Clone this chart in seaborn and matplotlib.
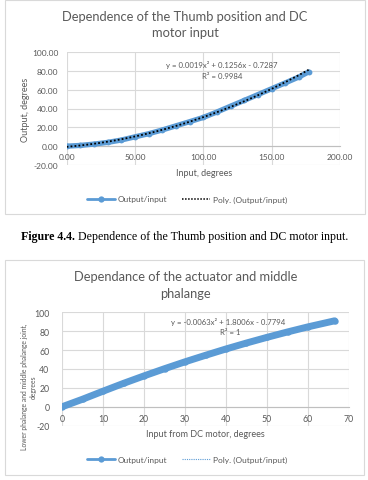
import numpy as np
import pandas as pd
import seaborn as sns
import matplotlib
matplotlib.use("Agg")
import matplotlib.pyplot as plt
from matplotlib.patches import Rectangle
from matplotlib.lines import Line2D

# ---------------- data ----------------
thumb_input = [0, 10, 20, 30, 40, 50, 60, 70, 80, 90, 100, 110, 120, 130, 140, 150, 160, 170, 177]
thumb_output = [0, 0.8, 2.2, 4.0, 6.5, 9.9, 13.2, 17.2, 21.6, 26.0, 30.5, 36.3, 42.5, 48.6, 54.8, 61.0, 67.2, 73.5, 78.8]
thumb_poly = [0.0019, 0.1256, -0.7287]
thumb_r2 = "0.9984"

mid_input = [0, 5, 10, 15, 20, 25, 30, 35, 40, 45, 50, 55, 60, 66.5]
mid_output = [0, 8.0, 16.5, 24.8, 32.7, 40.3, 47.6, 54.5, 61.2, 67.5, 73.5, 79.2, 84.6, 91.0]
mid_poly = [-0.0063, 1.8006, -0.7794]
mid_r2 = "1"

thumb_xticks = [0, 50, 100, 150, 200]
thumb_yticks = [-20, 0, 20, 40, 60, 80, 100]
mid_xticks = [0, 10, 20, 30, 40, 50, 60, 70]
mid_yticks = [-20, 0, 20, 40, 60, 80, 100]

# ---------------- style ----------------
sns.set_theme(style="white")
plt.rcParams['font.family'] = ['Lato', 'DejaVu Sans']
plt.rcParams['axes.unicode_minus'] = False

BLUE = "#5B9BD5"
GRID = "#D9D9D9"
TXT = "#595959"

W, H = 368, 481
fig = plt.figure(figsize=(W / 100, H / 100), dpi=100)

def px_rect(x0, y0, x1, y1):
    return [x0 / W, 1 - y1 / H, (x1 - x0) / W, (y1 - y0) / H]

def fx(x):
    return x / W

def fy(y):
    return 1 - y / H

# frames
for (x0, y0, x1, y1) in [(5, 1, 365, 215), (5, 261, 364, 476)]:
    fig.add_artist(Rectangle((fx(x0), fy(y1)), (x1 - x0) / W, (y1 - y0) / H,
                             transform=fig.transFigure, fill=False,
                             edgecolor=GRID, linewidth=0.8))


def poly_label(c):
    def term(v, first=False):
        return ("-" if v < 0 else "") if first else (" - " if v < 0 else " + ")
    s = "y = " + term(c[0], True) + f"{abs(c[0]):.4f}x\u00b2" + term(c[1]) + f"{abs(c[1]):.4f}x" + term(c[2]) + f"{abs(c[2]):.4f}"
    return s


def style_axes(ax, xticks, yticks, xfmt, yfmt, xlim, ylim, tick_fs):
    ax.set_xlim(*xlim)
    ax.set_ylim(*ylim)
    ax.set_xticks(xticks)
    ax.set_yticks(yticks)
    ax.set_xticklabels([xfmt(v) for v in xticks])
    ax.set_yticklabels([yfmt(v) for v in yticks])
    ax.grid(True, color=GRID, linewidth=0.8)
    ax.set_axisbelow(True)
    for s in ["top", "right", "left"]:
        ax.spines[s].set_visible(False)
    ax.spines["bottom"].set_position(("data", 0))
    ax.spines["bottom"].set_color("#BFBFBF")
    ax.spines["bottom"].set_linewidth(0.8)
    ax.tick_params(axis="both", length=0, labelsize=tick_fs, colors=TXT)
    ax.tick_params(axis="x", pad=5)
    ax.tick_params(axis="y", pad=6)
    ax.set_xlabel("")
    ax.set_ylabel("")


# ---------------- chart 1 ----------------
ax1 = fig.add_axes(px_rect(66.6, 53, 340, 166))
df1 = pd.DataFrame({"x": thumb_input, "y": thumb_output})
sns.lineplot(data=df1, x="x", y="y", ax=ax1, color=BLUE, linewidth=3.8,
             marker="o", markersize=4.2, markeredgewidth=0, legend=False, zorder=3)
tx1 = np.linspace(min(thumb_input), max(thumb_input), 200)
sns.lineplot(x=tx1, y=np.polyval(thumb_poly, tx1), ax=ax1, color="black",
             linewidth=1.3, linestyle=(0, (1, 1.2)), legend=False, zorder=4)
style_axes(ax1, thumb_xticks, thumb_yticks, lambda v: f"{v:.2f}", lambda v: f"{v:.2f}",
           (0, 200), (-20, 100), 6)
ax1.text(0.568, 0.894, poly_label(thumb_poly), transform=ax1.transAxes, ha="center",
         va="center", fontsize=5.6, color=TXT)
ax1.text(0.568, 0.788, "R\u00b2 = " + thumb_r2, transform=ax1.transAxes, ha="center",
         va="center", fontsize=5.6, color=TXT)

fig.text(fx(185), fy(17), "Dependence of the Thumb position and DC", ha="center", va="center",
         fontsize=9.3, color=TXT)
fig.text(fx(185), fy(33), "motor input", ha="center", va="center", fontsize=9.3, color=TXT)
fig.text(fx(25), fy(110), "Output, degrees", ha="center", va="center", rotation=90,
         fontsize=6.5, color=TXT)
fig.text(fx(204), fy(174), "Input, degrees", ha="center", va="center", fontsize=6.5, color=TXT)

h1 = [Line2D([], [], color=BLUE, linewidth=2, marker="o", markersize=4.5, markeredgewidth=0),
      Line2D([], [], color="black", linewidth=1.1, linestyle=(0, (1, 1)))]
fig.legend(h1, ["Output/input", "Poly. (Output/input)"], loc="center",
           bbox_to_anchor=(fx(187), fy(200)), ncol=2, frameon=False, fontsize=6,
           handlelength=3.4, columnspacing=1.8, handletextpad=0.3, labelcolor=TXT)

# ---------------- caption ----------------
cap1 = fig.text(fx(21), fy(237), "Figure 4.4.", ha="left", va="center", fontsize=8.6,
                fontweight="bold", family=["Liberation Serif"], color="black")
ax1.annotate(" Dependence of the Thumb position and DC motor input.", xy=(1, 0.5),
             xycoords=cap1, ha="left", va="center", fontsize=8.6,
             family=["Liberation Serif"], color="black", annotation_clip=False)

# ---------------- chart 2 ----------------
ax2 = fig.add_axes(px_rect(62, 313.3, 349, 426.7))
df2 = pd.DataFrame({"x": mid_input, "y": mid_output})
sns.lineplot(data=df2, x="x", y="y", ax=ax2, color=BLUE, linewidth=5,
             marker="o", markersize=4.6, markeredgewidth=0, legend=False, zorder=3)
tx2 = np.linspace(min(mid_input), max(mid_input), 200)
sns.lineplot(x=tx2, y=np.polyval(mid_poly, tx2), ax=ax2, color=BLUE,
             linewidth=0.8, linestyle=(0, (1, 1)), legend=False, zorder=4)
style_axes(ax2, mid_xticks, mid_yticks, lambda v: f"{v:d}", lambda v: f"{v:d}",
           (0, 70), (-20, 100), 6.3)
ax2.tick_params(axis="y", pad=9)
ax2.text(0.578, 0.921, poly_label(mid_poly), transform=ax2.transAxes, ha="center",
         va="center", fontsize=5.6, color=TXT)
ax2.text(0.585, 0.832, "R\u00b2 = " + mid_r2, transform=ax2.transAxes, ha="center",
         va="center", fontsize=5.6, color=TXT)

fig.text(fx(185.5), fy(277), "Dependance of the actuator and middle", ha="center",
         va="center", fontsize=9.3, color=TXT)
fig.text(fx(185.5), fy(294), "phalange", ha="center", va="center", fontsize=9.3, color=TXT)
fig.text(fx(29), fy(387), "Lower phalange and middle phalange joint,\ndegrees", ha="center",
         va="center", rotation=90, fontsize=4.9, color=TXT, linespacing=1.3)
fig.text(fx(205.7), fy(434.3), "Input from DC motor, degrees", ha="center", va="center",
         fontsize=6.5, color=TXT)

h2 = [Line2D([], [], color=BLUE, linewidth=2, marker="o", markersize=4.5, markeredgewidth=0),
      Line2D([], [], color=BLUE, linewidth=0.8, linestyle=(0, (1, 1)))]
fig.legend(h2, ["Output/input", "Poly. (Output/input)"], loc="center",
           bbox_to_anchor=(fx(187), fy(460.7)), ncol=2, frameon=False, fontsize=6,
           handlelength=3.4, columnspacing=1.8, handletextpad=0.3, labelcolor=TXT)

fig.savefig("out.png", dpi=100)
